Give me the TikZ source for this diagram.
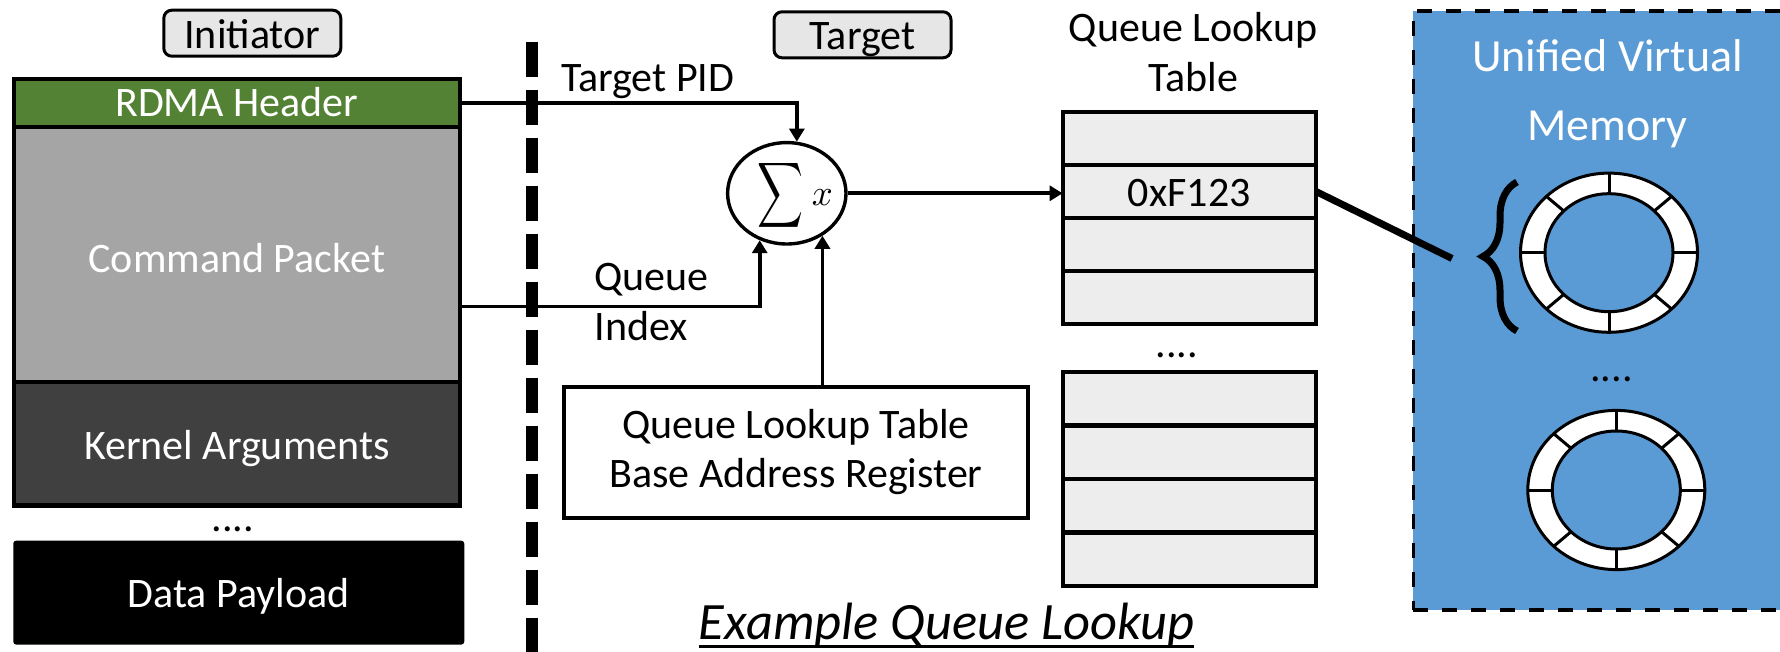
\documentclass[tikz,border=0pt]{standalone}
\usepackage{fontspec}
\setmainfont{Carlito}
\usepackage{graphicx}
\usetikzlibrary{arrows.meta,calc,decorations.pathreplacing,shapes.geometric}

\definecolor{hdrgreen}{HTML}{548235}
\definecolor{cmdgray}{HTML}{A5A5A5}
\definecolor{kargray}{HTML}{404040}
\definecolor{tagfill}{HTML}{E7E6E6}
\definecolor{rowfill}{HTML}{EDEDED}
\definecolor{uvmblue}{HTML}{5B9BD5}

\tikzset{
  txt/.style={font=\fontsize{42}{49.6}\selectfont, inner sep=0pt, outer sep=0pt},
  tag/.style={txt, draw=black, line width=3pt, fill=tagfill, rounded corners=8pt,
    minimum width=177pt, minimum height=46pt, text height=30pt, text depth=0pt},
  layer/.style={txt, draw=black, line width=4.2pt, minimum width=446pt, text=white, text depth=0pt},
  row/.style={txt, draw=black, line width=4.2pt, fill=rowfill, minimum width=253.4pt,
    text height=31pt, text depth=0pt},
  arr/.style={line width=3.6pt, -{Triangle[length=13pt,width=15pt]}},
  ringbuf/.pic={
    \fill[white, even odd rule] (0,0) ellipse [x radius=88.5, y radius=79.6]
                                (0,0) ellipse [x radius=64, y radius=59];
    \draw[line width=3pt] (0,0) ellipse [x radius=88.5, y radius=79.6];
    \draw[line width=3pt] (0,0) ellipse [x radius=64, y radius=59];
    \foreach \a in {0,45,...,315}
      \draw[line width=3pt] ({64*cos(\a)},{59*sin(\a)}) -- ({88.5*cos(\a)},{79.6*sin(\a)});
  }
}

\begin{document}
\begin{tikzpicture}[x=1pt,y=-1pt]
\useasboundingbox (0,0) rectangle (1780,652);

% ---- initiator side: packet layout ----
\node[tag] (init) at (252.3,33.2) {Initiator};
\node[layer, fill=hdrgreen, minimum height=48pt, text height=26.8pt] (hdr) at (236.8,103) {RDMA Header};
\node[layer, fill=cmdgray, minimum height=255pt, text height=35.6pt] (cmd) at (236.8,254.5) {Command Packet};
\node[layer, fill=kargray, minimum height=123.5pt, text height=31.5pt] (karg) at (236.8,443.75) {Kernel Arguments};
\node[txt] (dotsl) at (233,529) {....};
\node[txt, fill=black, text=white, rounded corners=3pt, minimum width=451pt, minimum height=104pt,
      text height=28.8pt, text depth=0pt] (data) at (238.75,592.6) {Data Payload};

% ---- network boundary ----
\draw[line width=12pt, dash pattern=on 35pt off 13pt] (531.6,41.6) -- (531.6,660);

% ---- target side: address computation ----
\node[tag] (tgt) at (862.5,34.8) {Target};
\node[txt, anchor=base west] (pidlbl) at (561,91.5) {Target PID};
\node[txt, align=left, anchor=west, font=\fontsize{42}{50}\selectfont] (qilbl) at (594.6,302.5) {Queue\\Index};

\node[draw, ellipse, line width=3.4pt, minimum width=118.4pt, minimum height=101.4pt, inner sep=0pt] (sum) at (786.8,193.3) {};
\node[inner sep=0pt] (sig) at (780.8,195.9) {\resizebox*{46pt}{73pt}{$\displaystyle\sum$}};
\node[inner sep=0pt] (xvar) at (822.4,197.4) {\resizebox{21pt}{!}{$x$}};

\node[txt, draw, line width=4.2pt, minimum width=464pt, minimum height=131pt, align=center] (qbar) at (796,452.2)
  {Queue Lookup Table\\Base Address Register};

% ---- queue lookup table ----
\node[txt, align=center, font=\fontsize{42}{50}\selectfont] (qlt) at (1193,52) {Queue Lookup\\Table};
\node[row, minimum height=53pt] (ra1) at (1189.3,138.5) {};
\node[row, minimum height=53pt] (ra2) at (1189.3,191.5) {0xF123};
\node[row, minimum height=53pt] (ra3) at (1189.3,244.5) {};
\node[row, minimum height=53pt] (ra4) at (1189.3,297.5) {};
\node[txt] (dotsm) at (1177,355.5) {....};
\node[row, minimum height=53.5pt] (rb1) at (1189.3,398.75) {};
\node[row, minimum height=53.5pt] (rb2) at (1189.3,452.25) {};
\node[row, minimum height=53.5pt] (rb3) at (1189.3,505.75) {};
\node[row, minimum height=53.5pt] (rb4) at (1189.3,559.25) {};

% ---- unified virtual memory ----
\node[draw, line width=3.3pt, dash pattern=on 15pt off 14pt, fill=uvmblue,
      minimum width=377pt, minimum height=599pt, inner sep=0pt] (uvm) at (1601.8,310.5) {};
\node[txt, text=white, align=center, font=\fontsize{46}{68.6}\selectfont] (uvmt) at (1607.5,93.7) {Unified Virtual\\Memory};
\pic (ringa) at (1609,252.7) {ringbuf};
\node[txt] (dotsr) at (1611.5,379.3) {....};
\pic (ringb) at (1616.3,490) {ringbuf};
\draw[line width=7pt, decorate, decoration={brace, amplitude=34pt}] (1517,331) -- (1517,182);
\coordinate (ptr) at (1452,258.5);

% ---- connectors ----
\draw[arr] (hdr.east) -| (sum.79.5);
\draw[arr] ($(cmd.east)+(0,52)$) -| (sum.-120.7);
\draw[arr] (qbar.north -| sum.-50.8) -- (sum.-50.8);
\draw[arr] (sum.east) -- (sum.east -| ra2.west);
\draw[line width=7pt] (ra2.east) -- (ptr);

% ---- caption ----
\node[txt, font={\fontsize{52.5}{52.5}\selectfont\itshape}, anchor=base] (cap) at (946.5,639.5) {Example Queue Lookup};
\draw[line width=2.6pt] ($(cap.base west)+(0,7)$) -- ($(cap.base east)+(0,7)$);
\end{tikzpicture}
\end{document}
